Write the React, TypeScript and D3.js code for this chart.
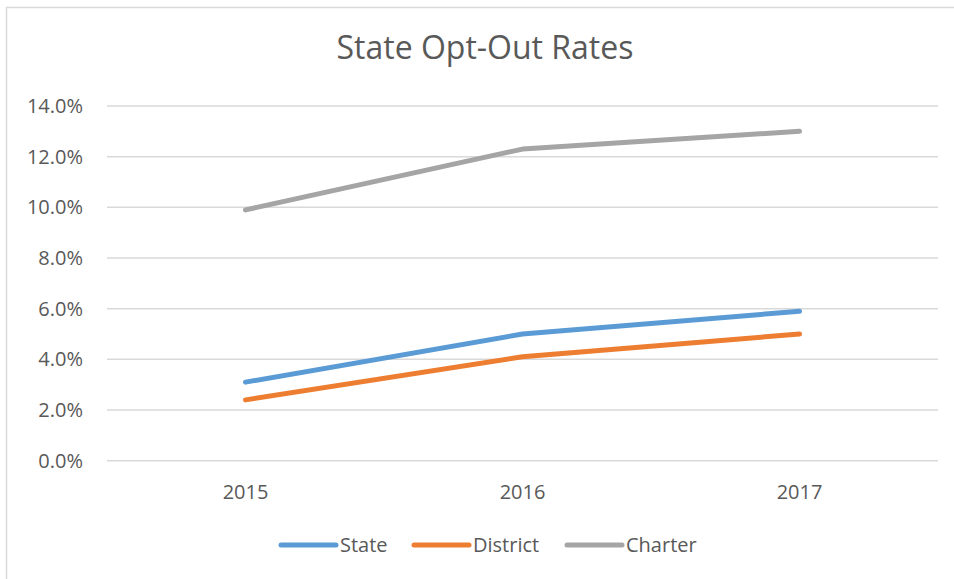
import React, { useEffect, useRef } from 'react';
import * as d3 from 'd3';

const years = ['2015', '2016', '2017'];
const stateRates = [0.031, 0.05, 0.059];
const districtRates = [0.024, 0.041, 0.05];
const charterRates = [0.099, 0.123, 0.13];
const yTicks = [0, 0.02, 0.04, 0.06, 0.08, 0.1, 0.12, 0.14];

const seriesList = [
  { name: 'State', values: stateRates, color: '#5B9BD5' },
  { name: 'District', values: districtRates, color: '#ED7D31' },
  { name: 'Charter', values: charterRates, color: '#A5A5A5' },
];

const App = () => {
  const ref = useRef<SVGSVGElement>(null);

  useEffect(() => {
    const width = 954;
    const height = 579;
    const font = '"Open Sans", "Noto Sans", sans-serif';
    const textColor = '#595959';

    const svg = d3.select(ref.current)
      .attr('width', width)
      .attr('height', height);

    svg.selectAll('*').remove();

    svg.append('rect')
      .attr('width', width)
      .attr('height', height)
      .attr('fill', '#fff');

    // chart area border
    svg.append('rect')
      .attr('x', 6.5)
      .attr('y', 7.5)
      .attr('width', width + 10)
      .attr('height', height + 10)
      .attr('fill', 'none')
      .attr('stroke', '#d9d9d9')
      .attr('stroke-width', 1.5);

    // title
    svg.append('text')
      .attr('x', 485)
      .attr('y', 59)
      .attr('text-anchor', 'middle')
      .attr('font-family', font)
      .attr('font-size', 32)
      .attr('fill', textColor)
      .text('State Opt-Out Rates');

    const x = d3.scaleBand()
      .domain(years)
      .range([107, 938])
      .padding(0);

    const y = d3.scaleLinear()
      .domain([0, 0.14])
      .range([460.7, 106]);

    const cx = (d: string) => (x(d) as number) + x.bandwidth() / 2;

    // gridlines
    svg.append('g')
      .selectAll('line')
      .data(yTicks)
      .join('line')
      .attr('x1', 107)
      .attr('x2', 938)
      .attr('y1', d => y(d))
      .attr('y2', d => y(d))
      .attr('stroke', '#d9d9d9')
      .attr('stroke-width', 1.5);

    // y labels
    svg.append('g')
      .selectAll('text')
      .data(yTicks)
      .join('text')
      .attr('x', 83)
      .attr('y', d => y(d))
      .attr('dy', '0.35em')
      .attr('text-anchor', 'end')
      .attr('font-family', font)
      .attr('font-size', 20)
      .attr('fill', textColor)
      .text(d => d3.format('.1%')(d));

    // x labels
    svg.append('g')
      .selectAll('text')
      .data(years)
      .join('text')
      .attr('x', d => cx(d))
      .attr('y', 499)
      .attr('text-anchor', 'middle')
      .attr('font-family', font)
      .attr('font-size', 20)
      .attr('fill', textColor)
      .text(d => d);

    // lines
    const line = d3.line<number>()
      .x((_, i) => cx(years[i]))
      .y(d => y(d));

    svg.append('g')
      .selectAll('path')
      .data(seriesList)
      .join('path')
      .attr('d', d => line(d.values))
      .attr('fill', 'none')
      .attr('stroke', d => d.color)
      .attr('stroke-width', 5)
      .attr('stroke-linecap', 'round')
      .attr('stroke-linejoin', 'round');

    // legend
    const legendX = [281, 414, 567];
    const legend = svg.append('g')
      .selectAll('g')
      .data(seriesList)
      .join('g')
      .attr('transform', (_, i) => `translate(${legendX[i]}, 545)`);

    legend.append('line')
      .attr('x1', 0)
      .attr('x2', 55)
      .attr('stroke', d => d.color)
      .attr('stroke-width', 5)
      .attr('stroke-linecap', 'round');

    legend.append('text')
      .attr('x', 59)
      .attr('dy', '0.35em')
      .attr('font-family', font)
      .attr('font-size', 20)
      .attr('fill', textColor)
      .text(d => d.name);
  }, []);

  return <svg ref={ref} style={{ position: 'absolute', left: 0, top: 0 }}></svg>;
};

export default App;
